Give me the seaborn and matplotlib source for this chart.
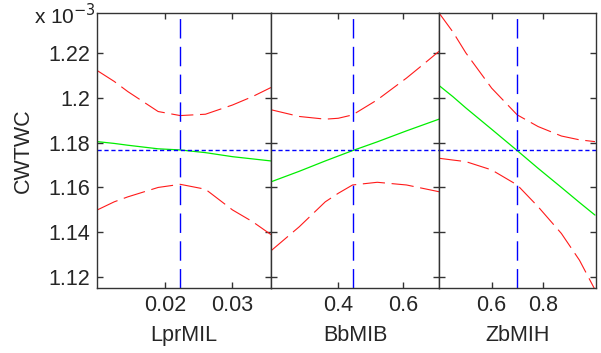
import matplotlib
matplotlib.use("Agg")
import matplotlib.pyplot as plt
import seaborn as sns
import pandas as pd

# ---- data (values in units of 1e-3) ----
factor_names = ["LprMIL", "BbMIB", "ZbMIH"]

lpr_x = [0.010, 0.0125, 0.0145, 0.019, 0.02226, 0.026, 0.030, 0.033, 0.0357]
lpr_mid = [1.1804, 1.1796, 1.1788, 1.1772, 1.1767, 1.1755, 1.1737, 1.1727, 1.1718]
lpr_up = [1.2120, 1.2072, 1.2027, 1.1938, 1.1920, 1.1926, 1.1967, 1.2005, 1.2045]
lpr_lo = [1.1500, 1.1536, 1.1558, 1.1600, 1.1614, 1.1592, 1.1500, 1.1447, 1.1390]

bb_x = [0.193, 0.28, 0.36, 0.40, 0.444, 0.52, 0.61, 0.66, 0.71]
bb_mid = [1.1625, 1.1672, 1.1718, 1.1740, 1.1764, 1.1803, 1.1852, 1.1878, 1.1904]
bb_up = [1.1946, 1.1916, 1.1904, 1.1908, 1.1923, 1.1990, 1.2087, 1.2146, 1.2206]
bb_lo = [1.1318, 1.1425, 1.1536, 1.1574, 1.1611, 1.1623, 1.1611, 1.1596, 1.1581]

zb_x = [0.396, 0.45, 0.50, 0.60, 0.699, 0.78, 0.87, 0.94, 1.0]
zb_mid = [1.2054, 1.2004, 1.1954, 1.1859, 1.1764, 1.1685, 1.1600, 1.1533, 1.1477]
zb_up = [1.2377, 1.2292, 1.2199, 1.2042, 1.1923, 1.1871, 1.1829, 1.1812, 1.1804]
zb_lo = [1.1730, 1.1722, 1.1715, 1.1678, 1.1611, 1.1514, 1.1395, 1.1276, 1.1145]

current_x = [0.02226, 0.444, 0.699]
current_y = 1.1767

x_limits = [(0.00995, 0.0357), (0.193, 0.71), (0.396, 1.004)]
x_ticks = [[0.02, 0.03], [0.4, 0.6], [0.6, 0.8]]
x_ticklabels = [["0.02", "0.03"], ["0.4", "0.6"], ["0.6", "0.8"]]
y_ticks = [1.12, 1.14, 1.16, 1.18, 1.20, 1.22]
y_ticklabels = ["1.12", "1.14", "1.16", "1.18", "1.2", "1.22"]
y_limits = (1.1151, 1.2378)
y_label = "CWTWC"

series = [
    (lpr_x, lpr_mid, lpr_up, lpr_lo),
    (bb_x, bb_mid, bb_up, bb_lo),
    (zb_x, zb_mid, zb_up, zb_lo),
]

# ---- styling ----
sns.set_style("ticks")
plt.rcParams["font.family"] = ["Liberation Sans", "DejaVu Sans"]
plt.rcParams["font.size"] = 15.5

W, H = 601, 353
fig = plt.figure(figsize=(W / 100, H / 100), dpi=100)

panel_px = [(97, 271), (271, 439), (439, 596)]
top_px, bot_px = 12.7, 288.3

for i, (l, r) in enumerate(panel_px):
    ax = fig.add_axes([l / W, 1 - bot_px / H, (r - l) / W, (bot_px - top_px) / H])
    xs, mid, up, lo = series[i]
    df = pd.DataFrame({"x": xs, "mid": mid, "up": up, "lo": lo})
    sns.lineplot(data=df, x="x", y="up", ax=ax, color="#ff1a1a", lw=0.8,
                 linestyle=(0, (20, 6)), estimator=None)
    sns.lineplot(data=df, x="x", y="lo", ax=ax, color="#ff1a1a", lw=0.8,
                 linestyle=(0, (20, 6)), estimator=None)
    sns.lineplot(data=df, x="x", y="mid", ax=ax, color="#00ee00", lw=0.9,
                 estimator=None)
    ax.axvline(current_x[i], color="#0000ff", lw=1.0, linestyle=(0, (14, 6)))
    ax.axhline(current_y, color="#0000ff", lw=1.0, linestyle=(0, (3, 2)))

    ax.set_xlim(*x_limits[i])
    ax.set_ylim(*y_limits)
    ax.set_xticks(x_ticks[i])
    ax.set_xticklabels(x_ticklabels[i])
    ax.set_yticks(y_ticks)
    ax.set_xlabel(factor_names[i], fontsize=15.5, labelpad=6)
    ax.set_ylabel("")
    ax.tick_params(direction="in", length=4, width=1.0, color="#333333",
                   top=True, right=True, labelsize=15.5, pad=5)
    if i == 0:
        ax.set_yticklabels(y_ticklabels)
        ax.set_ylabel(y_label, fontsize=15.5, labelpad=10)
    else:
        ax.tick_params(labelleft=False)
    for s in ax.spines.values():
        s.set_visible(True)
        s.set_color("#333333")
        s.set_linewidth(1.0)

fig.text(34 / W, 1 - 24 / H, r"x 10$^{-3}$", fontsize=15, ha="left",
         va="baseline", color="#222222")

fig.savefig("out.png", dpi=100)
